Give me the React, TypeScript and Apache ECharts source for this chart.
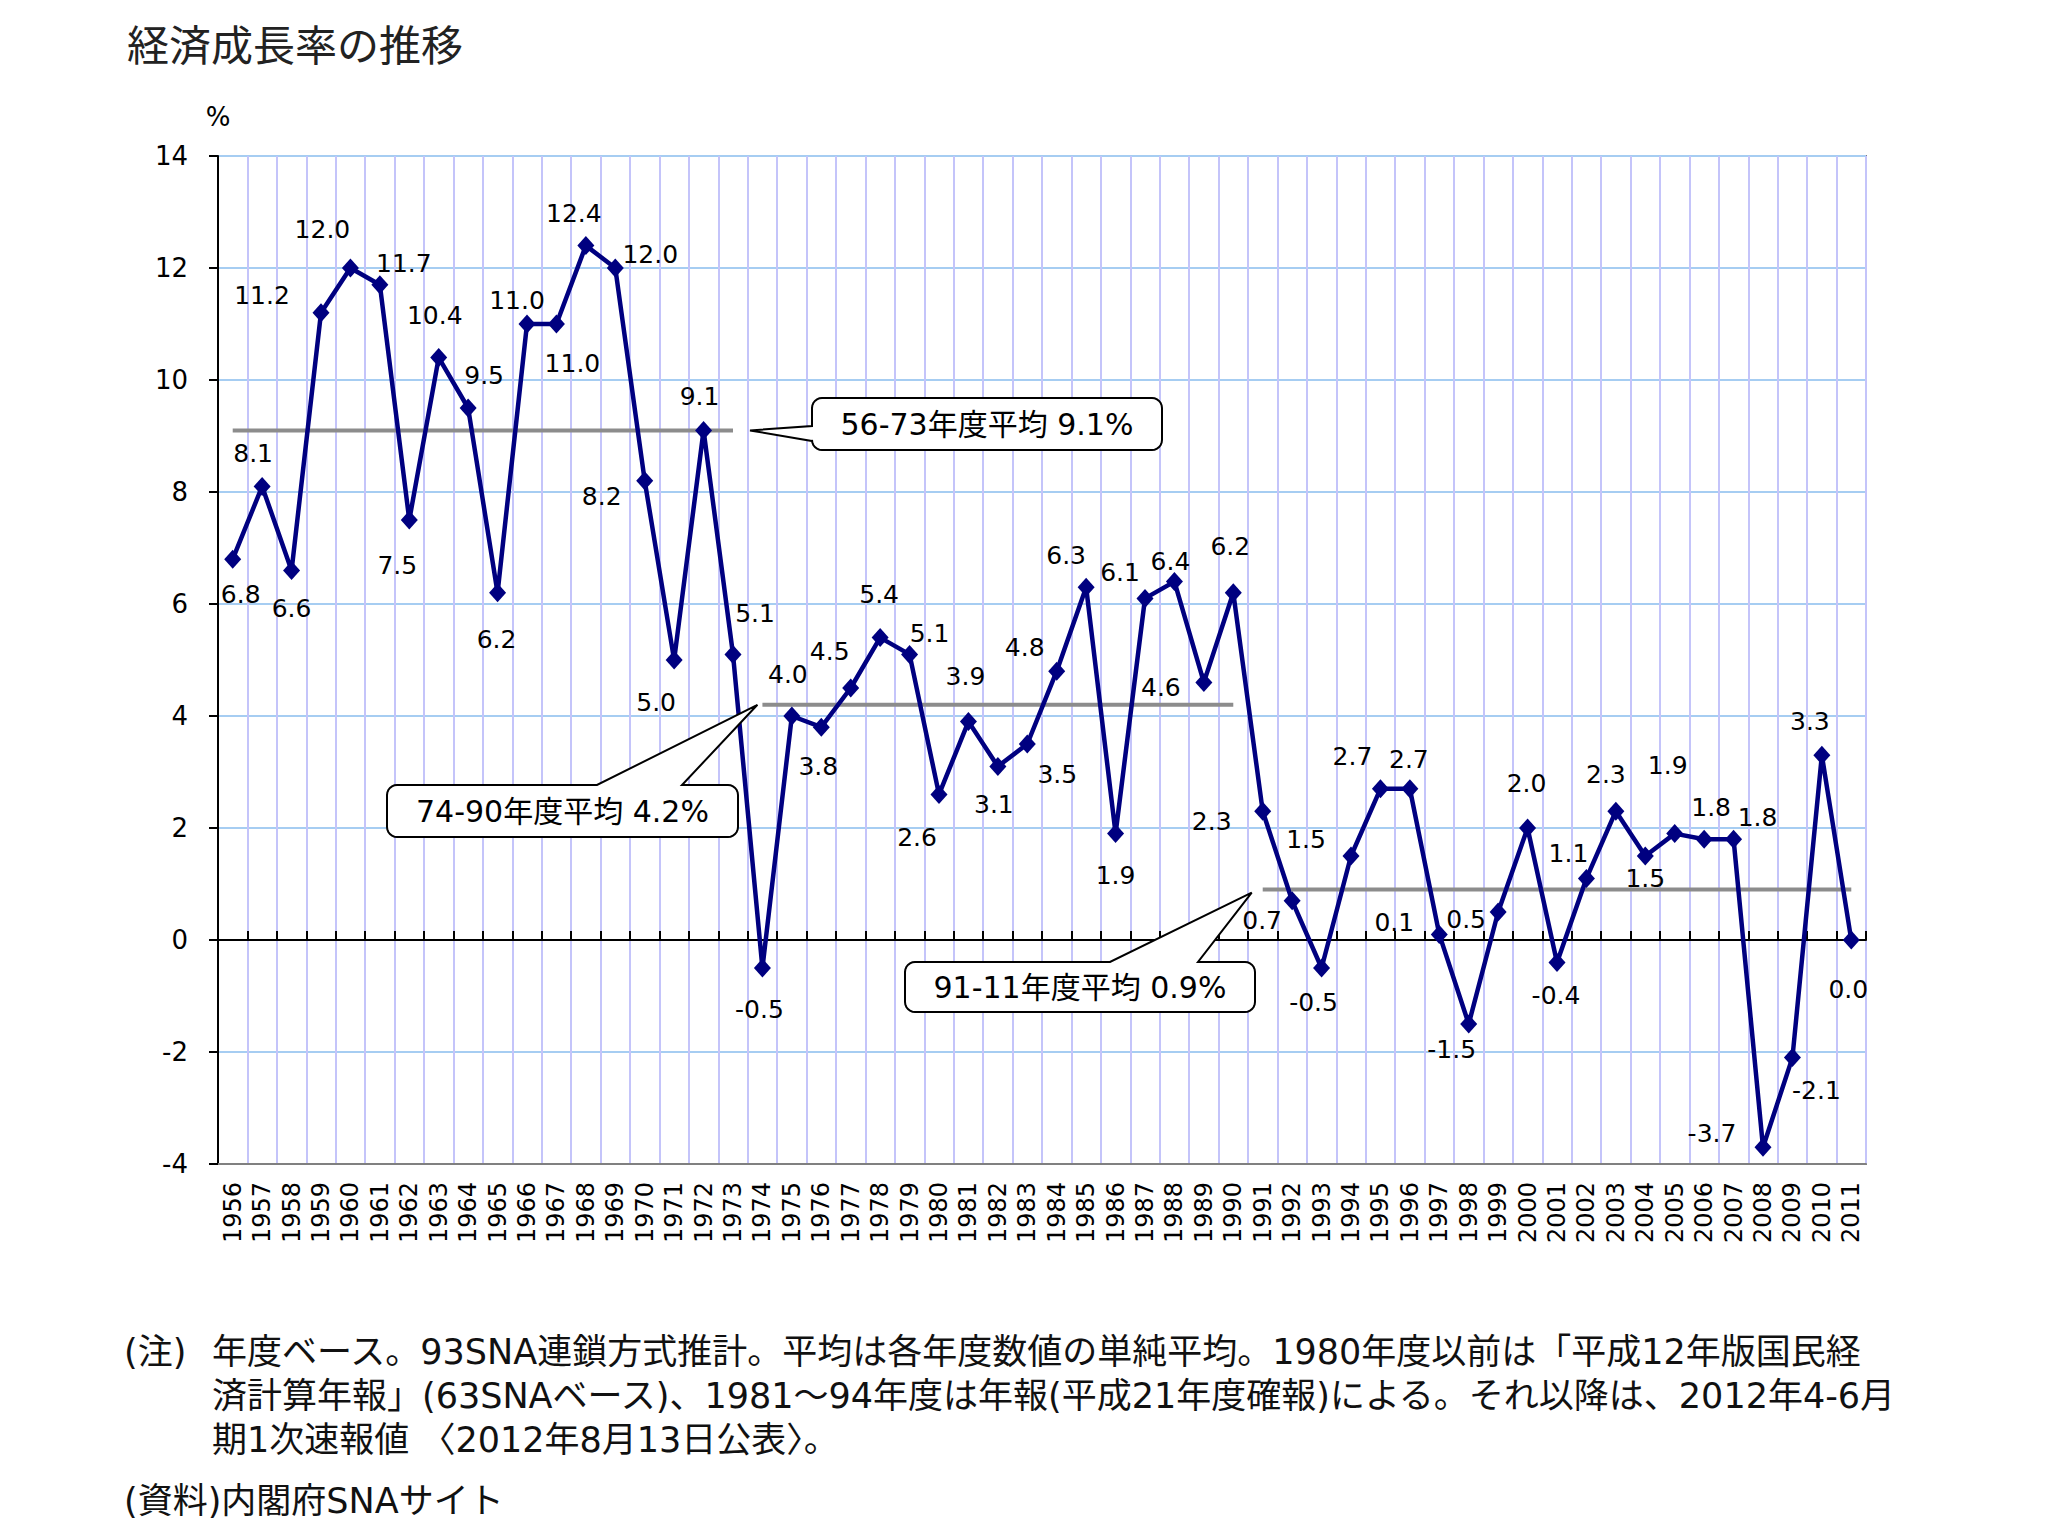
import React, { useEffect, useRef } from "react";
import * as echarts from "echarts";

const YEARS = [
  "1956","1957","1958","1959","1960","1961","1962","1963","1964","1965",
  "1966","1967","1968","1969","1970","1971","1972","1973","1974","1975",
  "1976","1977","1978","1979","1980","1981","1982","1983","1984","1985",
  "1986","1987","1988","1989","1990","1991","1992","1993","1994","1995",
  "1996","1997","1998","1999","2000","2001","2002","2003","2004","2005",
  "2006","2007","2008","2009","2010","2011",
];

const GROWTH = [
  6.8, 8.1, 6.6, 11.2, 12.0, 11.7, 7.5, 10.4, 9.5, 6.2,
  11.0, 11.0, 12.4, 12.0, 8.2, 5.0, 9.1, 5.1, -0.5, 4.0,
  3.8, 4.5, 5.4, 5.1, 2.6, 3.9, 3.1, 3.5, 4.8, 6.3,
  1.9, 6.1, 6.4, 4.6, 6.2, 2.3, 0.7, -0.5, 1.5, 2.7,
  2.7, 0.1, -1.5, 0.5, 2.0, -0.4, 1.1, 2.3, 1.5, 1.9,
  1.8, 1.8, -3.7, -2.1, 3.3, 0.0,
];

// period averages
const AVG_PERIODS = [
  { from: "1956", to: "1973", value: 9.1, text: "56-73年度平均 9.1%" },
  { from: "1974", to: "1990", value: 4.2, text: "74-90年度平均 4.2%" },
  { from: "1991", to: "2011", value: 0.9, text: "91-11年度平均 0.9%" },
];

const Y_TICKS = { min: -4, max: 14, interval: 2 };

const TITLE = "経済成長率の推移";
const NOTE_LINES = [
  "年度ベース。93SNA連鎖方式推計。平均は各年度数値の単純平均。1980年度以前は「平成12年版国民経",
  "済計算年報」(63SNAベース)、1981～94年度は年報(平成21年度確報)による。それ以降は、2012年4-6月",
  "期1次速報値 〈2012年8月13日公表〉。",
];
const NOTE_HEAD = "(注)";
const SOURCE = "(資料)内閣府SNAサイト";

// label offsets (px) relative to each marker centre — layout only
const LABEL_OFFSETS: [number, number][] = [
  [8, 35], [-9, -33], [0, 38], [-59, -17], [-28, -39], [24, -21], [-12, 45], [-4, -42], [16, -33], [-1, 47],
  [-10, -24], [16, 39], [-12, -32], [35, -14], [-43, 16], [-18, 42], [-4, -34], [22, -41], [-3, 41], [-4, -42],
  [-3, 39], [-21, -37], [-1, -43], [20, -21], [-22, 43], [-3, -45], [-4, 38], [30, 30], [-32, -24], [-20, -32],
  [0, 42], [-25, -26], [-4, -20], [-43, 5], [-3, -46], [-51, 10], [-30, 20], [-8, 34], [-45, -17], [-28, -32],
  [-1, -29], [-45, -12], [-17, 25], [-32, 7], [-1, -45], [-1, 33], [-18, -25], [-10, -37], [0, 22], [-7, -68],
  [7, -32], [24, -22], [-51, -14], [24, 33], [-12, -34], [-3, 49],
];

const FONT = "'DejaVu Sans','Noto Sans CJK JP',sans-serif";

function roundedCallout(
  x: number, y: number, w: number, h: number, r: number,
  edge: "left" | "top", a: number, b: number, tip: number[]
): number[][] {
  const pts: number[][] = [];
  const arc = (cx: number, cy: number, start: number, end: number) => {
    const n = 6;
    for (let k = 0; k <= n; k++) {
      const t = start + ((end - start) * k) / n;
      pts.push([cx + r * Math.cos(t), cy + r * Math.sin(t)]);
    }
  };
  pts.push([x + r, y]);
  if (edge === "top") {
    pts.push([a, y]);
    pts.push(tip);
    pts.push([b, y]);
  }
  pts.push([x + w - r, y]);
  arc(x + w - r, y + r, -Math.PI / 2, 0);
  pts.push([x + w, y + h - r]);
  arc(x + w - r, y + h - r, 0, Math.PI / 2);
  pts.push([x + r, y + h]);
  arc(x + r, y + h - r, Math.PI / 2, Math.PI);
  if (edge === "left") {
    pts.push([x, b]);
    pts.push(tip);
    pts.push([x, a]);
  }
  pts.push([x, y + r]);
  arc(x + r, y + r, Math.PI, Math.PI * 1.5);
  return pts;
}

export default function App() {
  const ref = useRef<HTMLDivElement>(null);

  useEffect(() => {
    if (!ref.current) return;
    const chart = echarts.init(ref.current, null, { renderer: "svg" });

    const avgSeries = AVG_PERIODS.map((p) => {
      const i0 = YEARS.indexOf(p.from);
      const i1 = YEARS.indexOf(p.to);
      return {
        type: "line",
        xAxisIndex: 0,
        yAxisIndex: 0,
        data: YEARS.map((_, i) => (i >= i0 && i <= i1 ? p.value : "-")),
        showSymbol: false,
        symbol: "none",
        silent: true,
        z: 2,
        lineStyle: { color: "#8c8c8c", width: 4 },
        itemStyle: { color: "#8c8c8c" },
      };
    });

    chart.setOption({
      animation: false,
      backgroundColor: "#ffffff",
      textStyle: { fontFamily: FONT },
      grid: {
        left: 218,
        top: 156,
        width: 1648,
        height: 1008,
        show: true,
        backgroundColor: "#ffffff",
        borderColor: "#808080",
        borderWidth: 2,
      },
      xAxis: [
        {
          type: "category",
          data: YEARS,
          position: "bottom",
          boundaryGap: true,
          axisLine: { show: true, onZero: false, lineStyle: { color: "#808080", width: 2 } },
          axisTick: { show: false },
          splitLine: { show: true, interval: 0, lineStyle: { color: "#c4c4fa", width: 2 } },
          axisLabel: {
            interval: 0,
            rotate: 90,
            margin: 18,
            fontSize: 24,
            color: "#000",
            fontFamily: FONT,
          },
        },
        {
          type: "category",
          data: YEARS,
          position: "bottom",
          boundaryGap: true,
          axisLine: { show: true, onZero: true, onZeroAxisIndex: 0, lineStyle: { color: "#000", width: 2 } },
          axisTick: { show: true, inside: true, length: 9, interval: 0, lineStyle: { color: "#000", width: 2 } },
          axisLabel: { show: false },
          splitLine: { show: false },
        },
      ],
      yAxis: {
        type: "value",
        min: Y_TICKS.min,
        max: Y_TICKS.max,
        interval: Y_TICKS.interval,
        name: "%",
        nameLocation: "end",
        nameGap: 26,
        nameTextStyle: { fontSize: 26, color: "#000", fontFamily: FONT },
        axisLine: { show: true, lineStyle: { color: "#000", width: 2 } },
        axisTick: { show: true, inside: false, length: 9, lineStyle: { color: "#000", width: 2 } },
        axisLabel: { margin: 30, fontSize: 26, color: "#000", fontFamily: FONT },
        splitLine: { show: true, lineStyle: { color: "#a6cdf2", width: 2 } },
      },
      series: [
        ...avgSeries,
        {
          type: "line",
          xAxisIndex: 0,
          yAxisIndex: 0,
          z: 4,
          data: GROWTH.map((v, i) => ({
            value: v,
            label: { offset: LABEL_OFFSETS[i] },
          })),
          symbol: "diamond",
          symbolSize: [17, 19],
          itemStyle: { color: "#000080" },
          lineStyle: { color: "#000080", width: 4.5 },
          label: {
            show: true,
            position: "inside",
            align: "center",
            verticalAlign: "middle",
            fontSize: 25,
            color: "#000",
            fontFamily: FONT,
            formatter: (p: any) => Number(p.value).toFixed(1),
          },
        },
      ],
    });

    const px = (cat: string, v: number) =>
      chart.convertToPixel({ xAxisIndex: 0, yAxisIndex: 0 }, [cat, v]) as number[];

    const t1 = px(AVG_PERIODS[0].to, AVG_PERIODS[0].value);
    const t2 = px(AVG_PERIODS[1].from, AVG_PERIODS[1].value);
    const t3 = px(AVG_PERIODS[2].from, AVG_PERIODS[2].value);

    const boxes = [
      { x: 812, y: 398, w: 350, h: 52, edge: "left" as const, a: 426, b: 441, tip: [t1[0] + 17, t1[1]], text: AVG_PERIODS[0].text },
      { x: 387, y: 785, w: 351, h: 52, edge: "top" as const, a: 597, b: 682, tip: [t2[0] - 5, t2[1]], text: AVG_PERIODS[1].text },
      { x: 905, y: 962, w: 350, h: 50, edge: "top" as const, a: 1110, b: 1198, tip: [t3[0] - 11, t3[1] + 3], text: AVG_PERIODS[2].text },
    ];

    const graphics: any[] = [];
    boxes.forEach((bx) => {
      graphics.push({
        type: "polygon",
        z: 10,
        shape: { points: roundedCallout(bx.x, bx.y, bx.w, bx.h, 10, bx.edge, bx.a, bx.b, bx.tip) },
        style: { fill: "#ffffff", stroke: "#000", lineWidth: 2 },
      });
      graphics.push({
        type: "text",
        z: 11,
        x: bx.x + bx.w / 2,
        y: bx.y + bx.h / 2,
        style: {
          text: bx.text,
          fontSize: 30,
          fontFamily: FONT,
          fill: "#000",
          align: "center",
          verticalAlign: "middle",
        },
      });
    });

    graphics.push({
      type: "text",
      x: 127,
      y: 46,
      style: { text: TITLE, fontSize: 42, fontFamily: FONT, fill: "#222", align: "left", verticalAlign: "middle" },
    });
    graphics.push({
      type: "text",
      x: 124,
      y: 1352,
      style: { text: NOTE_HEAD, fontSize: 35, fontFamily: FONT, fill: "#111", align: "left", verticalAlign: "middle" },
    });
    const noteYs = [1352, 1396, 1440];
    NOTE_LINES.forEach((ln, i) => {
      graphics.push({
        type: "text",
        x: 212,
        y: noteYs[i],
        style: { text: ln, fontSize: 35, fontFamily: FONT, fill: "#111", align: "left", verticalAlign: "middle" },
      });
    });
    graphics.push({
      type: "text",
      x: 124,
      y: 1501,
      style: { text: SOURCE, fontSize: 35, fontFamily: FONT, fill: "#111", align: "left", verticalAlign: "middle" },
    });

    chart.setOption({ graphic: graphics });

    return () => chart.dispose();
  }, []);

  return (
    <div
      ref={ref}
      style={{ position: "absolute", left: 0, top: 0, width: 2048, height: 1536 }}
    />
  );
}
